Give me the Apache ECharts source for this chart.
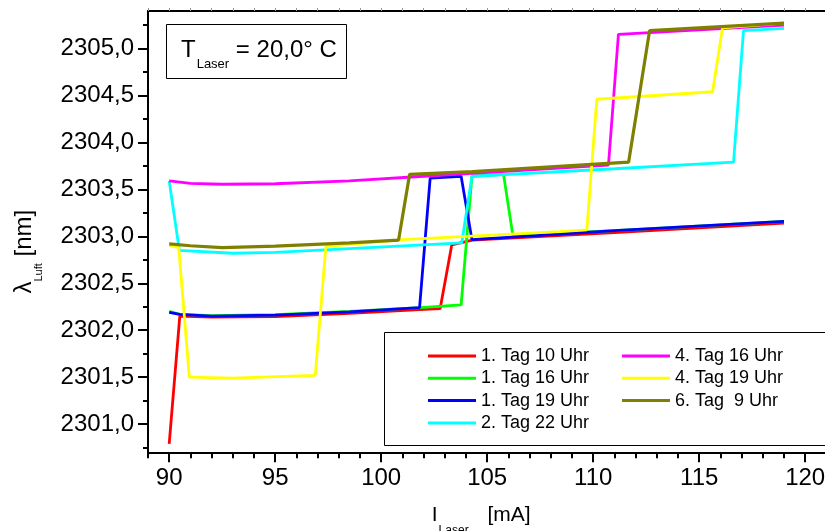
<!DOCTYPE html>
<html>
<head>
<meta charset="utf-8">
<script src="https://cdn.jsdelivr.net/npm/echarts@6/dist/echarts.min.js"></script>
<style>
  html, body { margin: 0; padding: 0; background: #fff; }
  #chart { width: 825px; height: 531px; }
</style>
</head>
<body>
<div id="chart"></div>
<script>
const seriesNames = ['1. Tag 10 Uhr', '1. Tag 16 Uhr', '1. Tag 19 Uhr', '2. Tag 22 Uhr',
  '4. Tag 16 Uhr', '4. Tag 19 Uhr', '6. Tag  9 Uhr']
const seriesColors = ['#ff0000', '#00ff00', '#0000ff', '#00ffff', '#ff00ff', '#ffff00', '#808000']

const day1At10 = [[90, 2300.79], [90.5, 2302.15], [92, 2302.14], [95, 2302.145], [98.5, 2302.18],
  [101.8, 2302.22], [102.78, 2302.23], [103.33, 2302.91], [104.3, 2302.96], [111, 2303.04], [119, 2303.14]]
const day1At16 = [[90, 2302.2], [90.5, 2302.17], [92, 2302.155], [95, 2302.165], [98.5, 2302.2],
  [101.84, 2302.24], [103.77, 2302.27], [104.28, 2303.64], [105.77, 2303.66], [106.21, 2303.01],
  [111, 2303.06], [119, 2303.16]]
const day1At19 = [[90, 2302.19], [90.5, 2302.17], [92, 2302.15], [95, 2302.16], [98.5, 2302.195],
  [101.81, 2302.24], [102.31, 2303.62], [103.77, 2303.64], [104.28, 2302.965], [111, 2303.06], [119, 2303.16]]
const day2At22 = [[90, 2303.59], [90.48, 2302.85], [93, 2302.82], [95, 2302.83], [98.5, 2302.87],
  [103.8, 2302.93], [104.28, 2303.64], [111, 2303.72], [116.62, 2303.79], [117.09, 2305.19], [119, 2305.215]]
const day4At16 = [[90, 2303.59], [91, 2303.565], [92.5, 2303.555], [95, 2303.56], [98.5, 2303.59],
  [102, 2303.64], [104.3, 2303.67], [110.72, 2303.76], [111.19, 2305.15], [115, 2305.2], [119, 2305.25]]
const day4At19 = [[90, 2302.9], [90.45, 2302.88], [90.95, 2301.5], [93, 2301.49], [96.89, 2301.52],
  [97.39, 2302.89], [101, 2302.965], [108.44, 2303.05], [109.7, 2303.07], [110.17, 2304.46],
  [115.63, 2304.54], [116.1, 2305.22], [119, 2305.27]]
const day6At9 = [[90, 2302.92], [91, 2302.9], [92.5, 2302.88], [95, 2302.895], [98.5, 2302.93],
  [100.82, 2302.96], [101.34, 2303.66], [104.3, 2303.69], [111.67, 2303.79], [112.66, 2305.19], [119, 2305.27]]

const xMajorTicks = [90, 95, 100, 105, 110, 115, 120]
const xMinorTicks = [89, 90, 91, 92, 93, 94, 95, 96, 97, 98, 99, 100, 101, 102, 103, 104, 105,
  106, 107, 108, 109, 110, 111, 112, 113, 114, 115, 116, 117, 118, 119, 120, 121]
const yMajorTicks = [2301, 2301.5, 2302, 2302.5, 2303, 2303.5, 2304, 2304.5, 2305]
const yMinorTicks = [2300.75, 2301.25, 2301.75, 2302.25, 2302.75, 2303.25, 2303.75, 2304.25,
  2304.75, 2305.25]

const allSeries = [day1At10, day1At16, day1At19, day2At22, day4At16, day4At19, day6At9]

const font = 'Liberation Sans, Arial, sans-serif'
const X_MIN = 89, X_MAX = 121
const Y_MIN = 2300.7, Y_MAX = 2305.4

const chart = echarts.init(document.getElementById('chart'))

const legendText = { fontFamily: font, fontSize: 18, color: '#000', lineHeight: 22 }
const makeLegend = (names, left) => ({
  data: names,
  orient: 'vertical',
  left,
  top: 345,
  padding: 0,
  icon: 'rect',
  itemWidth: 48,
  itemHeight: 3,
  itemGap: 0.3,
  selectedMode: false,
  textStyle: legendText
})

const plain = { fontFamily: font, fontWeight: 'normal', color: '#000', verticalAlign: 'top' }

const option = {
  animation: false,
  backgroundColor: '#fff',
  title: {
    text: '{m|T}{s|Laser}{m| = 20,0° C}',
    left: 166,
    top: 24,
    padding: [14, 10, 8, 15],
    borderColor: '#000',
    borderWidth: 1,
    textStyle: {
      fontWeight: 'normal',
      rich: {
        m: { ...plain, fontSize: 24, lineHeight: 24 },
        s: { ...plain, fontSize: 13, lineHeight: 13, padding: [20, 0, 0, 1] }
      }
    }
  },
  legend: [
    makeLegend(seriesNames.slice(0, 4), 428),
    makeLegend(seriesNames.slice(4), 622)
  ],
  graphic: [{
    type: 'rect',
    shape: { x: 384.5, y: 332.5, width: 460, height: 113 },
    style: { fill: 'none', stroke: '#000', lineWidth: 1 }
  }],
  grid: { left: 148, top: 11, width: 678.4, height: 441.3, outerBoundsMode: 'none' },
  xAxis: [
    {
      type: 'value',
      min: X_MIN,
      max: X_MAX,
      position: 'bottom',
      axisLine: { show: true, onZero: false, lineStyle: { color: '#000', width: 2 } },
      axisTick: { show: true, length: 10, customValues: xMajorTicks, lineStyle: { color: '#000', width: 2 } },
      axisLabel: {
        customValues: xMajorTicks,
        margin: 14,
        fontFamily: font,
        fontSize: 24,
        color: '#000',
        formatter: v => String(v)
      },
      splitLine: { show: false },
      name: '{m|I}{s|Laser}{m| [mA]}',
      nameLocation: 'middle',
      nameGap: 52,
      nameMoveOverlap: false,
      nameTextStyle: {
        padding: [0, 12, 0, 0],
        rich: {
          m: { ...plain, fontSize: 21, lineHeight: 22 },
          s: { ...plain, fontSize: 12, lineHeight: 12, padding: [20, 13, 0, 1] }
        }
      }
    },
    {
      type: 'value',
      min: X_MIN,
      max: X_MAX,
      position: 'bottom',
      axisLine: { show: false },
      axisTick: { show: true, length: 6, customValues: xMinorTicks, lineStyle: { color: '#000', width: 2 } },
      axisLabel: { show: false },
      splitLine: { show: false }
    },
    {
      type: 'value',
      min: X_MIN,
      max: X_MAX,
      position: 'top',
      axisLine: { show: true, onZero: false, lineStyle: { color: '#000', width: 2 } },
      axisTick: { show: true, length: 3, customValues: xMinorTicks, lineStyle: { color: '#999', width: 1 } },
      axisLabel: { show: false },
      splitLine: { show: false }
    }
  ],
  yAxis: [
    {
      type: 'value',
      min: Y_MIN,
      max: Y_MAX,
      position: 'left',
      axisLine: { show: true, onZero: false, lineStyle: { color: '#000', width: 2 } },
      axisTick: { show: true, length: 10, customValues: yMajorTicks, lineStyle: { color: '#000', width: 2 } },
      axisLabel: {
        customValues: yMajorTicks,
        margin: 14,
        fontFamily: font,
        fontSize: 24,
        color: '#000',
        formatter: v => v.toFixed(1).replace('.', ',')
      },
      splitLine: { show: false },
      name: '{m|λ}{s|Luft}{m| [nm]}',
      nameLocation: 'middle',
      nameGap: 112,
      nameMoveOverlap: false,
      nameTextStyle: {
        padding: [0, 40, 0, 0],
        rich: {
          m: { ...plain, fontSize: 24, lineHeight: 24 },
          s: { ...plain, fontSize: 11, lineHeight: 11, padding: [21, 0, 0, 0] }
        }
      }
    },
    {
      type: 'value',
      min: Y_MIN,
      max: Y_MAX,
      position: 'left',
      axisLine: { show: false },
      axisTick: { show: true, length: 5, customValues: yMinorTicks, lineStyle: { color: '#000', width: 2 } },
      axisLabel: { show: false },
      splitLine: { show: false }
    }
  ],
  series: allSeries.map((data, i) => ({
    name: seriesNames[i],
    type: 'line',
    data,
    xAxisIndex: 0,
    yAxisIndex: 0,
    symbol: 'none',
    smooth: false,
    lineStyle: { color: seriesColors[i], width: i === 6 ? 3.2 : 2.8 },
    itemStyle: { color: seriesColors[i] }
  }))
}

chart.setOption(option)
</script>
</body>
</html>
